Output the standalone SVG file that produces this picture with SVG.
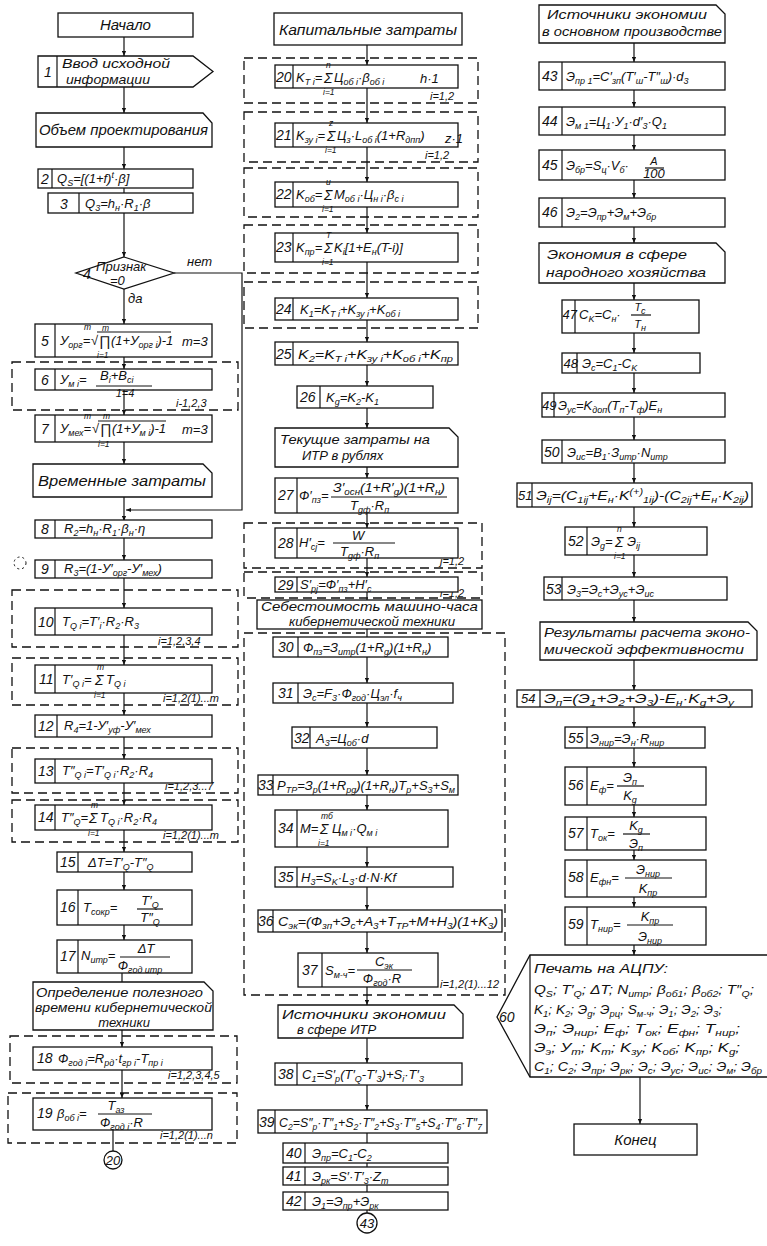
<svg xmlns="http://www.w3.org/2000/svg" width="767" height="1246" viewBox="0 0 767 1246">
<defs>
<marker id="a" viewBox="0 0 6 6" refX="6" refY="3" markerWidth="5" markerHeight="5" orient="auto" markerUnits="userSpaceOnUse"><path d="M0,0.5 L6,3 L0,5.5 z" fill="#111"/></marker>
<style>
text{font-family:"Liberation Sans",Arial,sans-serif;font-style:italic;font-size:13px;fill:#111}
.h{font-size:15px}
.k{font-size:14px}
.b{font-size:9px;baseline-shift:-3px}
.p{font-size:9px;baseline-shift:5px}
.l{font-size:11px}
.sm{font-size:8.5px}
.sg{font-size:14px}
.bx{fill:#fff;stroke:#111;stroke-width:1.3}
.ds{fill:none;stroke:#111;stroke-width:1.3;stroke-dasharray:9 5}
.ln{stroke:#111;stroke-width:1.2;fill:none}
.c{stroke:#111;stroke-width:1.2;fill:none;marker-end:url(#a)}
</style>
</defs>
<rect width="767" height="1246" fill="#fff"/>

<g id="loops">
<rect class="ds" x="12" y="362" width="226" height="48"/>
<rect class="ds" x="12" y="590" width="226" height="57"/>
<rect class="ds" x="12" y="658" width="226" height="47"/>
<rect class="ds" x="12" y="748" width="226" height="45"/>
<rect class="ds" x="12" y="800" width="226" height="42"/>
<rect class="ds" x="10" y="1036" width="227" height="47"/>
<rect class="ds" x="8" y="1093" width="229" height="50"/>
<rect class="ds" x="244" y="58" width="234" height="45"/>
<rect class="ds" x="244" y="112" width="234" height="50"/>
<rect class="ds" x="244" y="168" width="234" height="49"/>
<rect class="ds" x="244" y="225" width="234" height="48"/>
<rect class="ds" x="244" y="282" width="234" height="46"/>
<rect class="ds" x="244" y="523" width="238" height="45"/>
<rect class="ds" x="244" y="572" width="238" height="26"/>
<rect class="ds" x="244" y="633" width="261" height="362"/>
<circle cx="20" cy="563" r="6" fill="none" stroke="#111" stroke-width="1" stroke-dasharray="2 3"/>
<text class="l" x="176" y="407">i-1,2,3</text>
<text class="l" x="158" y="645">i=1,2,3,4</text>
<text class="l" x="163" y="702">i=1,2(1)...m</text>
<text class="l" x="165" y="790">i=1,2,3...7</text>
<text class="l" x="163" y="839">i=1,2(1)...m</text>
<text class="l" x="168" y="1079">i=1,2,3,4,5</text>
<text class="l" x="160" y="1139">i=1,2(1)...n</text>
<text class="l" x="430" y="100">i=1,2</text>
<text class="l" x="425" y="159">i=1,2</text>
<text class="l" x="440" y="565">j=1,2</text>
<text class="l" x="440" y="597">i=1,2</text>
<text class="l" x="440" y="988">i=1,2(1)...12</text>
</g>

<g id="connectors">
<line class="c" x1="124" y1="37" x2="124" y2="56"/>
<line class="c" x1="124" y1="87" x2="124" y2="113"/>
<line class="c" x1="124" y1="147" x2="124" y2="169"/>
<line class="ln" x1="124" y1="188" x2="124" y2="193"/>
<line class="c" x1="124" y1="213" x2="124" y2="257"/>
<line class="c" x1="124" y1="289" x2="124" y2="324"/>
<line class="c" x1="124" y1="357" x2="124" y2="369"/>
<line class="c" x1="124" y1="390" x2="124" y2="415"/>
<line class="c" x1="124" y1="442" x2="124" y2="464"/>
<line class="c" x1="124" y1="497" x2="124" y2="521"/>
<line class="c" x1="124" y1="537" x2="124" y2="560"/>
<line class="c" x1="124" y1="577" x2="124" y2="608"/>
<line class="c" x1="124" y1="635" x2="124" y2="665"/>
<line class="c" x1="124" y1="693" x2="124" y2="715"/>
<line class="c" x1="124" y1="737" x2="124" y2="759"/>
<line class="c" x1="124" y1="783" x2="124" y2="805"/>
<line class="c" x1="124" y1="830" x2="124" y2="852"/>
<line class="c" x1="124" y1="872" x2="124" y2="890"/>
<line class="c" x1="124" y1="925" x2="124" y2="940"/>
<line class="ln" x1="122" y1="973" x2="122" y2="982"/>
<line class="c" x1="122" y1="1030" x2="122" y2="1047"/>
<line class="c" x1="122" y1="1070" x2="122" y2="1098"/>
<line class="ln" x1="113" y1="1130" x2="113" y2="1151"/>
<path class="c" d="M174,273 H242 V510 H126"/>
<text x="187" y="266">нет</text>
<text x="128" y="303">да</text>

<line class="c" x1="367" y1="45" x2="367" y2="65"/>
<line class="c" x1="367" y1="88" x2="367" y2="123"/>
<line class="c" x1="367" y1="147" x2="367" y2="182"/>
<line class="c" x1="367" y1="207" x2="367" y2="233"/>
<line class="c" x1="367" y1="262" x2="367" y2="298"/>
<line class="c" x1="367" y1="320" x2="367" y2="342"/>
<line class="c" x1="367" y1="365" x2="367" y2="386"/>
<line class="c" x1="367" y1="408" x2="367" y2="428"/>
<line class="c" x1="367" y1="467" x2="367" y2="478"/>
<line class="c" x1="367" y1="513" x2="367" y2="528"/>
<line class="c" x1="367" y1="558" x2="367" y2="577"/>
<line class="ln" x1="367" y1="592" x2="367" y2="600"/>
<line class="ln" x1="367" y1="629" x2="367" y2="637"/>
<line class="c" x1="367" y1="657" x2="367" y2="683"/>
<line class="c" x1="367" y1="703" x2="367" y2="727"/>
<line class="c" x1="367" y1="748" x2="367" y2="775"/>
<line class="c" x1="367" y1="795" x2="367" y2="810"/>
<line class="c" x1="367" y1="847" x2="367" y2="867"/>
<line class="c" x1="367" y1="887" x2="367" y2="910"/>
<line class="c" x1="367" y1="932" x2="367" y2="953"/>
<line class="c" x1="367" y1="987" x2="367" y2="1005"/>
<line class="c" x1="367" y1="1038" x2="367" y2="1063"/>
<line class="c" x1="367" y1="1085" x2="367" y2="1110"/>
<line class="ln" x1="367" y1="1133" x2="367" y2="1143"/>
<line class="ln" x1="367" y1="1163" x2="367" y2="1167"/>
<line class="ln" x1="367" y1="1185" x2="367" y2="1192"/>
<line class="ln" x1="367" y1="1210" x2="367" y2="1213"/>

<line class="c" x1="634" y1="43" x2="634" y2="62"/>
<line class="c" x1="634" y1="90" x2="634" y2="107"/>
<line class="c" x1="634" y1="135" x2="634" y2="150"/>
<line class="c" x1="634" y1="180" x2="634" y2="198"/>
<line class="c" x1="634" y1="227" x2="634" y2="243"/>
<line class="c" x1="634" y1="283" x2="634" y2="300"/>
<line class="c" x1="634" y1="333" x2="634" y2="353"/>
<line class="c" x1="634" y1="373" x2="634" y2="393"/>
<line class="c" x1="634" y1="417" x2="634" y2="440"/>
<line class="c" x1="634" y1="463" x2="634" y2="483"/>
<line class="c" x1="634" y1="507" x2="634" y2="527"/>
<line class="c" x1="634" y1="555" x2="634" y2="577"/>
<line class="c" x1="634" y1="600" x2="634" y2="622"/>
<line class="c" x1="634" y1="660" x2="634" y2="690"/>
<line class="c" x1="634" y1="707" x2="634" y2="727"/>
<line class="c" x1="634" y1="748" x2="634" y2="767"/>
<line class="c" x1="634" y1="805" x2="634" y2="817"/>
<line class="c" x1="634" y1="850" x2="634" y2="860"/>
<line class="c" x1="634" y1="897" x2="634" y2="907"/>
<line class="c" x1="634" y1="945" x2="634" y2="955"/>
<line class="c" x1="640" y1="1077" x2="640" y2="1124"/>
</g>

<g id="start"><rect class="bx" x="58" y="13" width="135" height="24"/><text class="h" x="125.5" y="30" text-anchor="middle">Начало</text></g>
<g id="n1"><path class="bx" d="M38,56 H193 L213,71.5 L193,87 H38 Z"/><line class="ln" x1="57" y1="56" x2="57" y2="87"/><text class="k" x="44" y="77">1</text><text x="62" y="68" font-size="14" textLength="108" lengthAdjust="spacingAndGlyphs">Ввод исходной</text><text x="66" y="84" font-size="14" textLength="84" lengthAdjust="spacingAndGlyphs">информации</text></g>
<g id="h1"><path class="bx" d="M36,113 H203 L212,123 V147 H36 Z"/><text class="h" x="39" y="135" textLength="169" lengthAdjust="spacingAndGlyphs">Объем проектирования</text></g>
<g id="n2"><rect class="bx" x="38" y="169" width="155" height="19"/><line class="ln" x1="52" y1="169" x2="52" y2="188"/><text class="k" x="41" y="184">2</text><text x="57" y="183">Q<tspan class="b">S</tspan>=[(1+f)<tspan class="p">t</tspan>·β]</text></g>
<g id="n3"><rect class="bx" x="48" y="193" width="145" height="20"/><line class="ln" x1="79" y1="193" x2="79" y2="213"/><text class="k" x="60" y="209">3</text><text x="85" y="208">Q<tspan class="b">3</tspan>=h<tspan class="b">н</tspan>·R<tspan class="b">1</tspan>·β</text></g>
<g id="n4"><path class="bx" d="M124,257 L174,273 L124,289 L76,273 Z"/><text class="k" x="83" y="279">4</text><text x="96" y="271">Признак</text><text x="110" y="285">=0</text></g>
<g id="n5"><rect class="bx" x="35" y="324" width="177" height="33"/><line class="ln" x1="55" y1="324" x2="55" y2="357"/><text class="k" x="41" y="346">5</text><text x="60" y="345">У<tspan class="b">орг</tspan>=</text><text x="91" y="345">√</text><text class="sm" x="84" y="330">m</text><text class="sg" x="99" y="346">∏</text><text class="sm" x="102" y="331">m</text><text class="sm" x="97" y="358">i=1</text><line class="ln" x1="97" y1="332" x2="171" y2="332"/><text x="111" y="345">(1+У<tspan class="b">орг i</tspan>)-1</text><text x="182" y="346">m=3</text></g>
<g id="n6"><rect class="bx" x="35" y="369" width="177" height="21"/><line class="ln" x1="55" y1="369" x2="55" y2="390"/><text class="k" x="41" y="385">6</text><text x="60" y="384">У<tspan class="b">м i</tspan>=</text><text x="100" y="380" font-size="12">В<tspan class="b">i</tspan>+В<tspan class="b">ci</tspan></text><line class="ln" x1="96" y1="386" x2="152" y2="386"/><text class="l" x="125" y="397" text-anchor="middle">1=4</text></g>
<g id="n7"><rect class="bx" x="35" y="415" width="177" height="27"/><line class="ln" x1="55" y1="415" x2="55" y2="442"/><text class="k" x="41" y="434">7</text><text x="60" y="433">У<tspan class="b">мех</tspan>=</text><text x="92" y="433">√</text><text class="sm" x="84" y="419">m</text><text class="sg" x="100" y="434">∏</text><text class="sm" x="103" y="419">m</text><text class="sm" x="98" y="447">i=1</text><line class="ln" x1="98" y1="421" x2="166" y2="421"/><text x="112" y="433">(1+У<tspan class="b">м i</tspan>)-1</text><text x="182" y="434">m=3</text></g>
<g id="h2"><path class="bx" d="M33,464 H203 L212,473 V497 H33 Z"/><text class="h" x="38" y="486" textLength="168" lengthAdjust="spacingAndGlyphs">Временные затраты</text></g>
<g id="n8"><rect class="bx" x="35" y="520" width="177" height="18"/><line class="ln" x1="55" y1="520" x2="55" y2="538"/><text class="k" x="41" y="534">8</text><text x="64" y="533">R<tspan class="b">2</tspan>=h<tspan class="b">н</tspan>·R<tspan class="b">1</tspan>·β<tspan class="b">н</tspan>·η</text></g>
<g id="n9"><rect class="bx" x="35" y="560" width="177" height="18"/><line class="ln" x1="55" y1="560" x2="55" y2="578"/><text class="k" x="41" y="574">9</text><text x="64" y="573">R<tspan class="b">3</tspan>=(1-У′<tspan class="b">орг</tspan>-У′<tspan class="b">мех</tspan>)</text></g>
<g id="n10"><rect class="bx" x="35" y="608" width="177" height="27"/><line class="ln" x1="55" y1="608" x2="55" y2="635"/><text class="k" x="38" y="627">10</text><text x="62" y="626">T<tspan class="b">Q i</tspan>=T′<tspan class="b">i</tspan>·R<tspan class="b">2</tspan>·R<tspan class="b">3</tspan></text></g>
<g id="n11"><rect class="bx" x="35" y="665" width="177" height="28"/><line class="ln" x1="55" y1="665" x2="55" y2="693"/><text class="k" x="39" y="684">11</text><text x="62" y="684">T′<tspan class="b">Q i</tspan>=</text><text class="sg" x="95" y="685">Σ</text><text class="sm" x="97" y="670">m</text><text class="sm" x="94" y="698">i=1</text><text x="106" y="684">T<tspan class="b">Q i</tspan></text></g>
<g id="n12"><rect class="bx" x="35" y="715" width="177" height="22"/><line class="ln" x1="57" y1="715" x2="57" y2="737"/><text class="k" x="38" y="731">12</text><text x="64" y="730">R<tspan class="b">4</tspan>=1-У′<tspan class="b">уф</tspan>-У′<tspan class="b">мех</tspan></text></g>
<g id="n13"><rect class="bx" x="35" y="759" width="177" height="24"/><line class="ln" x1="55" y1="759" x2="55" y2="783"/><text class="k" x="38" y="776">13</text><text x="62" y="775">T″<tspan class="b">Q i</tspan>=T′<tspan class="b">Q i</tspan>·R<tspan class="b">2</tspan>·R<tspan class="b">4</tspan></text></g>
<g id="n14"><rect class="bx" x="35" y="805" width="177" height="25"/><line class="ln" x1="55" y1="805" x2="55" y2="830"/><text class="k" x="38" y="822">14</text><text x="61" y="822">T″<tspan class="b">Q</tspan>=</text><text class="sg" x="89" y="823">Σ</text><text class="sm" x="91" y="808">m</text><text class="sm" x="88" y="836">i=1</text><text x="100" y="822">T<tspan class="b">Q i</tspan>·R<tspan class="b">2</tspan>·R<tspan class="b">4</tspan></text></g>
<g id="n15"><rect class="bx" x="57" y="852" width="135" height="20"/><line class="ln" x1="78" y1="852" x2="78" y2="872"/><text class="k" x="60" y="867">15</text><text x="88" y="867">ΔT=T′<tspan class="b">Q</tspan>-T″<tspan class="b">Q</tspan></text></g>
<g id="n16"><rect class="bx" x="57" y="890" width="135" height="35"/><line class="ln" x1="78" y1="890" x2="78" y2="925"/><text class="k" x="60" y="912">16</text><text x="83" y="912">T<tspan class="b">сокр</tspan>=</text><text x="150" y="905" text-anchor="middle">T′<tspan class="b">Q</tspan></text><line class="ln" x1="137" y1="909" x2="163" y2="909"/><text x="150" y="922" text-anchor="middle">T″<tspan class="b">Q</tspan></text></g>
<g id="n17"><rect class="bx" x="57" y="940" width="135" height="33"/><line class="ln" x1="78" y1="940" x2="78" y2="973"/><text class="k" x="60" y="961">17</text><text x="81" y="960">N<tspan class="b">итр</tspan>=</text><text x="146" y="953" text-anchor="middle">ΔT</text><text x="140" y="970" text-anchor="middle">Ф<tspan class="b">год итр</tspan></text><line class="ln" x1="120" y1="957" x2="170" y2="957"/></g>
<g id="h3"><path class="bx" d="M33,982 H204 L213,991 V1030 H33 Z"/><text x="36" y="997" font-size="14" textLength="167" lengthAdjust="spacingAndGlyphs">Определение полезного</text><text x="35" y="1012" font-size="14" textLength="177" lengthAdjust="spacingAndGlyphs">времени кибернетической</text><text x="124" y="1027" font-size="14" text-anchor="middle">техники</text></g>
<g id="n18"><rect class="bx" x="33" y="1047" width="179" height="23"/><text class="k" x="37" y="1063">18</text><text x="58" y="1063">Ф<tspan class="b">год i</tspan>=R<tspan class="b">рд</tspan>·t<tspan class="b">гр i</tspan>-T<tspan class="b">пр i</tspan></text></g>
<g id="n19"><rect class="bx" x="33" y="1098" width="179" height="32"/><text class="k" x="37" y="1118">19</text><text x="57" y="1118">β<tspan class="b">об i</tspan>=</text><text x="116" y="1110" text-anchor="middle">T<tspan class="b">аз</tspan></text><line class="ln" x1="98" y1="1114" x2="152" y2="1114"/><text x="100" y="1127">Ф<tspan class="b">год i</tspan>·R</text></g>
<g id="c20"><circle class="bx" cx="113" cy="1160" r="9"/><text x="113" y="1165" font-size="12" text-anchor="middle">20</text></g>

<g id="h4"><rect class="bx" x="274" y="13" width="188" height="32"/><text class="h" x="279" y="35" textLength="178" lengthAdjust="spacingAndGlyphs">Капитальные затраты</text></g>
<g id="n20"><rect class="bx" x="275" y="65" width="183" height="23"/><line class="ln" x1="293" y1="65" x2="293" y2="88"/><text class="k" x="276" y="82">20</text><text x="296" y="82">K<tspan class="b">T i</tspan>=</text><text class="sg" x="324" y="83">Σ</text><text class="sm" x="326" y="68">n</text><text class="sm" x="323" y="95">i=1</text><text x="334" y="82">Ц<tspan class="b">об i</tspan>·β<tspan class="b">об i</tspan></text><text x="420" y="83">h·1</text></g>
<g id="n21"><rect class="bx" x="275" y="123" width="183" height="24"/><line class="ln" x1="293" y1="123" x2="293" y2="147"/><text class="k" x="276" y="140">21</text><text x="296" y="140">K<tspan class="b">зу i</tspan>=</text><text class="sg" x="327" y="141">Σ</text><text class="sm" x="329" y="126">z</text><text class="sm" x="325" y="153">i=1</text><text x="337" y="140">Ц<tspan class="b">з</tspan>·L<tspan class="b">об i</tspan>(1+R<tspan class="b">дпп</tspan>)</text><text x="445" y="143">z·1</text></g>
<g id="n22"><rect class="bx" x="275" y="182" width="183" height="25"/><line class="ln" x1="293" y1="182" x2="293" y2="207"/><text class="k" x="276" y="199">22</text><text x="296" y="199">K<tspan class="b">об</tspan>=</text><text class="sg" x="324" y="200">Σ</text><text class="sm" x="326" y="185">u</text><text class="sm" x="322" y="212">i=1</text><text x="334" y="199">M<tspan class="b">об i</tspan>·Ц<tspan class="b">н i</tspan>·β<tspan class="b">c i</tspan></text></g>
<g id="n23"><rect class="bx" x="275" y="233" width="183" height="29"/><line class="ln" x1="293" y1="233" x2="293" y2="262"/><text class="k" x="276" y="252">23</text><text x="296" y="252">K<tspan class="b">пр</tspan>=</text><text class="sg" x="324" y="253">Σ</text><text class="sm" x="326" y="238">T</text><text class="sm" x="322" y="265">i=1</text><text x="334" y="252">K<tspan class="b">i</tspan>[1+E<tspan class="b">н</tspan>(T-i)]</text></g>
<g id="n24"><rect class="bx" x="275" y="298" width="183" height="22"/><line class="ln" x1="293" y1="298" x2="293" y2="320"/><text class="k" x="276" y="314">24</text><text x="300" y="314">K<tspan class="b">1</tspan>=K<tspan class="b">T i</tspan>+K<tspan class="b">зу i</tspan>+K<tspan class="b">об i</tspan></text></g>
<g id="n25"><rect class="bx" x="275" y="342" width="183" height="23"/><line class="ln" x1="293" y1="342" x2="293" y2="365"/><text class="k" x="276" y="359">25</text><text x="298" y="359" textLength="155" lengthAdjust="spacingAndGlyphs">K<tspan class="b">2</tspan>=K<tspan class="b">T i</tspan>+K<tspan class="b">зу i</tspan>+K<tspan class="b">об i</tspan>+K<tspan class="b">пр</tspan></text></g>
<g id="n26"><rect class="bx" x="297" y="386" width="136" height="22"/><line class="ln" x1="320" y1="386" x2="320" y2="408"/><text class="k" x="300" y="402">26</text><text x="326" y="402">K<tspan class="b">g</tspan>=K<tspan class="b">2</tspan>-K<tspan class="b">1</tspan></text></g>
<g id="h5"><path class="bx" d="M275,428 H449 L458,437 V467 H275 Z"/><text x="280" y="444" font-size="14" textLength="150" lengthAdjust="spacingAndGlyphs">Текущие затраты на</text><text x="302" y="460" font-size="14">ИТР в рублях</text></g>
<g id="n27"><rect class="bx" x="275" y="478" width="183" height="35"/><line class="ln" x1="297" y1="478" x2="297" y2="513"/><text class="k" x="278" y="500">27</text><text x="299" y="500">Ф′<tspan class="b">пз</tspan>=</text><text x="333" y="492" textLength="112" lengthAdjust="spacingAndGlyphs">З′<tspan class="b">осн</tspan>(1+R′<tspan class="b">g</tspan>)(1+R<tspan class="b">н</tspan>)</text><line class="ln" x1="331" y1="497" x2="447" y2="497"/><text x="350" y="510">T<tspan class="b">gф</tspan>·R<tspan class="b">п</tspan></text></g>
<g id="n28"><rect class="bx" x="275" y="528" width="183" height="30"/><line class="ln" x1="297" y1="528" x2="297" y2="558"/><text class="k" x="278" y="548">28</text><text x="299" y="547">H′<tspan class="b">cj</tspan>=</text><text x="352" y="540">W</text><line class="ln" x1="333" y1="543" x2="395" y2="543"/><text x="340" y="556">T<tspan class="b">gф</tspan>·R<tspan class="b">п</tspan></text></g>
<g id="n29"><rect class="bx" x="275" y="577" width="183" height="15"/><line class="ln" x1="297" y1="577" x2="297" y2="592"/><text class="k" x="278" y="590" font-size="13">29</text><text x="300" y="589">S′<tspan class="b">pj</tspan>=Ф′<tspan class="b">пз</tspan>+H′<tspan class="b">c</tspan></text></g>
<g id="h6"><rect class="bx" x="257" y="600" width="225" height="29"/><text x="261" y="611" font-size="10.5" textLength="217" lengthAdjust="spacingAndGlyphs">Себестоимость машино-часа</text><text x="289" y="626" font-size="10.5" textLength="166" lengthAdjust="spacingAndGlyphs">кибернетической техники</text></g>
<g id="n30"><rect class="bx" x="273" y="637" width="175" height="20"/><line class="ln" x1="298" y1="637" x2="298" y2="657"/><text class="k" x="278" y="652">30</text><text x="303" y="652">Ф<tspan class="b">пз</tspan>=З<tspan class="b">итр</tspan>(1+R<tspan class="b">g</tspan>)(1+R<tspan class="b">н</tspan>)</text></g>
<g id="n31"><rect class="bx" x="273" y="683" width="180" height="20"/><line class="ln" x1="298" y1="683" x2="298" y2="703"/><text class="k" x="278" y="698">31</text><text x="303" y="698">Э<tspan class="b">c</tspan>=F<tspan class="b">3</tspan>·Ф<tspan class="b">год</tspan>·Ц<tspan class="b">эл</tspan>·f<tspan class="b">ч</tspan></text></g>
<g id="n32"><rect class="bx" x="292" y="727" width="145" height="21"/><line class="ln" x1="310" y1="727" x2="310" y2="748"/><text class="k" x="294" y="743">32</text><text x="316" y="743">A<tspan class="b">3</tspan>=Ц<tspan class="b">об</tspan>·d</text></g>
<g id="n33"><rect class="bx" x="258" y="775" width="200" height="20"/><line class="ln" x1="273" y1="775" x2="273" y2="795"/><text class="k" x="258" y="790" font-size="13">33</text><text x="277" y="790" textLength="178" lengthAdjust="spacingAndGlyphs">P<tspan class="b">TP</tspan>=З<tspan class="b">p</tspan>(1+R<tspan class="b">pg</tspan>)(1+R<tspan class="b">н</tspan>)T<tspan class="b">p</tspan>+S<tspan class="b">3</tspan>+S<tspan class="b">м</tspan></text></g>
<g id="n34"><rect class="bx" x="275" y="810" width="173" height="37"/><line class="ln" x1="297" y1="810" x2="297" y2="847"/><text class="k" x="278" y="833">34</text><text x="300" y="833">M=</text><text class="sg" x="320" y="834">Σ</text><text class="sm" x="321" y="819">mб</text><text class="sm" x="318" y="846">i=1</text><text x="332" y="833">Ц<tspan class="b">м i</tspan>·Q<tspan class="b">м i</tspan></text></g>
<g id="n35"><rect class="bx" x="275" y="867" width="178" height="20"/><line class="ln" x1="297" y1="867" x2="297" y2="887"/><text class="k" x="278" y="882">35</text><text x="301" y="882">H<tspan class="b">3</tspan>=S<tspan class="b">K</tspan>·L<tspan class="b">3</tspan>·d·N·Kf</text></g>
<g id="n36"><rect class="bx" x="258" y="910" width="244" height="22"/><line class="ln" x1="273" y1="910" x2="273" y2="932"/><text class="k" x="258" y="926" font-size="13">36</text><text x="278" y="926" textLength="220" lengthAdjust="spacingAndGlyphs">C<tspan class="b">эк</tspan>=(Ф<tspan class="b">зп</tspan>+Э<tspan class="b">c</tspan>+A<tspan class="b">3</tspan>+T<tspan class="b">TP</tspan>+M+H<tspan class="b">3</tspan>)(1+K<tspan class="b">3</tspan>)</text></g>
<g id="n37"><rect class="bx" x="298" y="953" width="140" height="34"/><line class="ln" x1="322" y1="953" x2="322" y2="987"/><text class="k" x="302" y="975">37</text><text x="325" y="975">S<tspan class="b">м-ч</tspan>=</text><text x="384" y="966" text-anchor="middle">C<tspan class="b">эк</tspan></text><line class="ln" x1="357" y1="970" x2="412" y2="970"/><text x="382" y="983" text-anchor="middle">Ф<tspan class="b">год</tspan>·R</text></g>
<g id="h7"><path class="bx" d="M278,1005 H454 L463,1014 V1038 H278 Z"/><text x="282" y="1019" font-size="14" textLength="164" lengthAdjust="spacingAndGlyphs">Источники экономии</text><text x="297" y="1034" font-size="14">в сфере ИТР</text></g>
<g id="n38"><rect class="bx" x="275" y="1063" width="187" height="22"/><line class="ln" x1="297" y1="1063" x2="297" y2="1085"/><text class="k" x="278" y="1079">38</text><text x="302" y="1079">C<tspan class="b">1</tspan>=S′<tspan class="b">p</tspan>(T′<tspan class="b">Q</tspan>-T′<tspan class="b">3</tspan>)+S<tspan class="b">i</tspan>·T′<tspan class="b">3</tspan></text></g>
<g id="n39"><rect class="bx" x="258" y="1110" width="229" height="23"/><line class="ln" x1="275" y1="1110" x2="275" y2="1133"/><text class="k" x="259" y="1127" font-size="13">39</text><text x="279" y="1127" textLength="203" lengthAdjust="spacingAndGlyphs">C<tspan class="b">2</tspan>=S″<tspan class="b">p</tspan>·T″<tspan class="b">1</tspan>+S<tspan class="b">2</tspan>·T″<tspan class="b">2</tspan>+S<tspan class="b">3</tspan>·T″<tspan class="b">5</tspan>+S<tspan class="b">4</tspan>·T″<tspan class="b">6</tspan>·T″<tspan class="b">7</tspan></text></g>
<g id="n40"><rect class="bx" x="283" y="1143" width="165" height="20"/><line class="ln" x1="305" y1="1143" x2="305" y2="1163"/><text class="k" x="286" y="1158">40</text><text x="312" y="1158">Э<tspan class="b">пр</tspan>=C<tspan class="b">1</tspan>-C<tspan class="b">2</tspan></text></g>
<g id="n41"><rect class="bx" x="283" y="1167" width="165" height="18"/><line class="ln" x1="305" y1="1167" x2="305" y2="1185"/><text class="k" x="286" y="1181">41</text><text x="312" y="1181">Э<tspan class="b">рк</tspan>=S′·T′<tspan class="b">3</tspan>·Z<tspan class="b">m</tspan></text></g>
<g id="n42"><rect class="bx" x="283" y="1192" width="165" height="18"/><line class="ln" x1="305" y1="1192" x2="305" y2="1210"/><text class="k" x="286" y="1206">42</text><text x="312" y="1206">Э<tspan class="b">1</tspan>=Э<tspan class="b">пр</tspan>+Э<tspan class="b">рк</tspan></text></g>
<g id="c43"><circle class="bx" cx="367" cy="1223" r="10"/><text x="367" y="1228" font-size="12" text-anchor="middle">43</text></g>

<g id="h8"><path class="bx" d="M539,5 H716 L725,14 V43 H539 Z"/><text x="547" y="19" font-size="14" textLength="160" lengthAdjust="spacingAndGlyphs">Источники экономии</text><text x="542" y="36" font-size="14" textLength="180" lengthAdjust="spacingAndGlyphs">в основном производстве</text></g>
<g id="n43"><rect class="bx" x="539" y="62" width="186" height="28"/><line class="ln" x1="562" y1="62" x2="562" y2="90"/><text class="k" x="542" y="81">43</text><text x="566" y="81">Э<tspan class="b">пр 1</tspan>=C′<tspan class="b">зп</tspan>(T′<tspan class="b">ш</tspan>-T″<tspan class="b">ш</tspan>)·d<tspan class="b">3</tspan></text></g>
<g id="n44"><rect class="bx" x="539" y="107" width="186" height="28"/><line class="ln" x1="562" y1="107" x2="562" y2="135"/><text class="k" x="542" y="126">44</text><text x="566" y="126">Э<tspan class="b">м 1</tspan>=Ц<tspan class="b">1</tspan>·У<tspan class="b">1</tspan>·d′<tspan class="b">3</tspan>·Q<tspan class="b">1</tspan></text></g>
<g id="n45"><rect class="bx" x="539" y="150" width="186" height="30"/><line class="ln" x1="562" y1="150" x2="562" y2="180"/><text class="k" x="542" y="170">45</text><text x="566" y="170">Э<tspan class="b">бр</tspan>=S<tspan class="b">ц</tspan>·V<tspan class="b">б</tspan>·</text><text class="l" x="654" y="165" text-anchor="middle">A</text><line class="ln" x1="645" y1="168" x2="664" y2="168"/><text x="654" y="178" font-size="10" text-anchor="middle">100</text></g>
<g id="n46"><rect class="bx" x="539" y="198" width="186" height="29"/><line class="ln" x1="562" y1="198" x2="562" y2="227"/><text class="k" x="542" y="217">46</text><text x="566" y="217">Э<tspan class="b">2</tspan>=Э<tspan class="b">пр</tspan>+Э<tspan class="b">м</tspan>+Э<tspan class="b">бр</tspan></text></g>
<g id="h9"><path class="bx" d="M539,243 H716 L725,252 V283 H539 Z"/><text x="547" y="259" font-size="14" textLength="140" lengthAdjust="spacingAndGlyphs">Экономия в сфере</text><text x="546" y="277" font-size="14" textLength="160" lengthAdjust="spacingAndGlyphs">народного хозяйства</text></g>
<g id="n47"><rect class="bx" x="562" y="300" width="137" height="33"/><line class="ln" x1="575" y1="300" x2="575" y2="333"/><text x="562.5" y="319" font-size="11">47</text><text x="579" y="319">C<tspan class="b">K</tspan>=C<tspan class="b">н</tspan>·</text><text class="l" x="640" y="311" text-anchor="middle">T<tspan class="b">c</tspan></text><line class="ln" x1="631" y1="315" x2="651" y2="315"/><text class="l" x="640" y="328" text-anchor="middle">T<tspan class="b">н</tspan></text></g>
<g id="n48"><rect class="bx" x="562" y="353" width="138" height="20"/><line class="ln" x1="577" y1="353" x2="577" y2="373"/><text x="563.5" y="368" font-size="11.5">48</text><text x="582" y="368">Э<tspan class="b">c</tspan>=C<tspan class="b">1</tspan>-C<tspan class="b">K</tspan></text></g>
<g id="n49"><rect class="bx" x="542" y="393" width="183" height="24"/><line class="ln" x1="554" y1="393" x2="554" y2="417"/><text x="542" y="410" font-size="10.5">49</text><text x="558" y="410">Э<tspan class="b">ус</tspan>=K<tspan class="b">доп</tspan>(T<tspan class="b">п</tspan>-T<tspan class="b">ф</tspan>)E<tspan class="b">н</tspan></text></g>
<g id="n50"><rect class="bx" x="542" y="440" width="183" height="23"/><line class="ln" x1="562" y1="440" x2="562" y2="463"/><text class="k" x="544" y="457">50</text><text x="567" y="457">Э<tspan class="b">ис</tspan>=B<tspan class="b">1</tspan>·З<tspan class="b">итр</tspan>·N<tspan class="b">итр</tspan></text></g>
<g id="n51"><rect class="bx" x="517" y="483" width="235" height="24"/><line class="ln" x1="532" y1="483" x2="532" y2="507"/><text x="518" y="500" font-size="13">51</text><text x="536" y="500" textLength="213" lengthAdjust="spacingAndGlyphs">Э<tspan class="b">ij</tspan>=(C<tspan class="b">1ij</tspan>+E<tspan class="b">н</tspan>·K<tspan class="p">(+)</tspan><tspan class="b">1ij</tspan>)-(C<tspan class="b">2ij</tspan>+E<tspan class="b">н</tspan>·K<tspan class="b">2ij</tspan>)</text></g>
<g id="n52"><rect class="bx" x="565" y="527" width="142" height="28"/><line class="ln" x1="587" y1="527" x2="587" y2="555"/><text class="k" x="568" y="546">52</text><text x="591" y="546">Э<tspan class="b">g</tspan>=</text><text class="sg" x="615" y="547">Σ</text><text class="sm" x="617" y="532">n</text><text class="sm" x="614" y="559">i=1</text><text x="627" y="546">Э<tspan class="b">ij</tspan></text></g>
<g id="n53"><rect class="bx" x="544" y="577" width="183" height="23"/><line class="ln" x1="562" y1="577" x2="562" y2="600"/><text class="k" x="546" y="594">53</text><text x="567" y="594">Э<tspan class="b">3</tspan>=Э<tspan class="b">c</tspan>+Э<tspan class="b">ус</tspan>+Э<tspan class="b">ис</tspan></text></g>
<g id="h10"><path class="bx" d="M540,622 H748 L757,631 V660 H540 Z"/><text x="544" y="637" font-size="14" textLength="206" lengthAdjust="spacingAndGlyphs">Результаты расчета эконо-</text><text x="544" y="654" font-size="14" textLength="200" lengthAdjust="spacingAndGlyphs">мической эффективности</text></g>
<g id="n54"><rect class="bx" x="517" y="690" width="235" height="17"/><line class="ln" x1="540" y1="690" x2="540" y2="707"/><text x="521" y="703" font-size="13">54</text><text x="544" y="703" textLength="190" lengthAdjust="spacingAndGlyphs">Э<tspan class="b">п</tspan>=(Э<tspan class="b">1</tspan>+Э<tspan class="b">2</tspan>+Э<tspan class="b">3</tspan>)-E<tspan class="b">н</tspan>·K<tspan class="b">g</tspan>+Э<tspan class="b">у</tspan></text></g>
<g id="n55"><rect class="bx" x="565" y="727" width="140" height="21"/><line class="ln" x1="587" y1="727" x2="587" y2="748"/><text class="k" x="568" y="743">55</text><text x="590" y="743">Э<tspan class="b">нир</tspan>=Э<tspan class="b">н</tspan>·R<tspan class="b">нир</tspan></text></g>
<g id="n56"><rect class="bx" x="565" y="767" width="141" height="38"/><line class="ln" x1="587" y1="767" x2="587" y2="805"/><text class="k" x="568" y="790">56</text><text x="590" y="790">E<tspan class="b">ф</tspan>=</text><text x="630" y="782" text-anchor="middle">Э<tspan class="b">п</tspan></text><line class="ln" x1="617" y1="786" x2="644" y2="786"/><text x="630" y="800" text-anchor="middle">K<tspan class="b">g</tspan></text></g>
<g id="n57"><rect class="bx" x="565" y="817" width="141" height="33"/><line class="ln" x1="587" y1="817" x2="587" y2="850"/><text class="k" x="568" y="838">57</text><text x="590" y="838">T<tspan class="b">ок</tspan>=</text><text x="636" y="830" text-anchor="middle">K<tspan class="b">g</tspan></text><line class="ln" x1="623" y1="834" x2="650" y2="834"/><text x="636" y="848" text-anchor="middle">Э<tspan class="b">п</tspan></text></g>
<g id="n58"><rect class="bx" x="565" y="860" width="141" height="37"/><line class="ln" x1="587" y1="860" x2="587" y2="897"/><text class="k" x="568" y="882">58</text><text x="590" y="882">E<tspan class="b">фн</tspan>=</text><text x="648" y="874" text-anchor="middle">Э<tspan class="b">нир</tspan></text><line class="ln" x1="625" y1="878" x2="672" y2="878"/><text x="648" y="893" text-anchor="middle">K<tspan class="b">пр</tspan></text></g>
<g id="n59"><rect class="bx" x="565" y="907" width="141" height="38"/><line class="ln" x1="587" y1="907" x2="587" y2="945"/><text class="k" x="568" y="929">59</text><text x="590" y="929">T<tspan class="b">нир</tspan>=</text><text x="650" y="921" text-anchor="middle">K<tspan class="b">пр</tspan></text><line class="ln" x1="627" y1="925" x2="673" y2="925"/><text x="650" y="941" text-anchor="middle">Э<tspan class="b">нир</tspan></text></g>
<g id="n60"><path class="bx" d="M767,955 H530 L497,1017 L530,1077 H767"/><line class="ln" x1="530" y1="955" x2="530" y2="1077"/><text class="k" x="499" y="1022">60</text>
<text x="534" y="973" textLength="134" lengthAdjust="spacingAndGlyphs">Печать на АЦПУ:</text>
<text x="534" y="994" textLength="220" lengthAdjust="spacingAndGlyphs">Q<tspan class="b">S</tspan>; T′<tspan class="b">Q</tspan>; ΔT; N<tspan class="b">итр</tspan>; β<tspan class="b">об1</tspan>; β<tspan class="b">об2</tspan>; T″<tspan class="b">Q</tspan>;</text>
<text x="534" y="1014" textLength="188" lengthAdjust="spacingAndGlyphs">K<tspan class="b">1</tspan>; K<tspan class="b">2</tspan>; Э<tspan class="b">g</tspan>; Э<tspan class="b">рц</tspan>; S<tspan class="b">м-ч</tspan>; Э<tspan class="b">1</tspan>; Э<tspan class="b">2</tspan>; Э<tspan class="b">3</tspan>;</text>
<text x="534" y="1033" textLength="206" lengthAdjust="spacingAndGlyphs">Э<tspan class="b">п</tspan>; Э<tspan class="b">нир</tspan>; E<tspan class="b">ф</tspan>; T<tspan class="b">ок</tspan>; E<tspan class="b">фн</tspan>; T<tspan class="b">нир</tspan>;</text>
<text x="534" y="1052" textLength="206" lengthAdjust="spacingAndGlyphs">Э<tspan class="b">э</tspan>; У<tspan class="b">т</tspan>; K<tspan class="b">т</tspan>; K<tspan class="b">зу</tspan>; K<tspan class="b">об</tspan>; K<tspan class="b">пр</tspan>; K<tspan class="b">g</tspan>;</text>
<text x="534" y="1071" textLength="228" lengthAdjust="spacingAndGlyphs">C<tspan class="b">1</tspan>; C<tspan class="b">2</tspan>; Э<tspan class="b">пр</tspan>; Э<tspan class="b">рк</tspan>; Э<tspan class="b">c</tspan>; Э<tspan class="b">ус</tspan>; Э<tspan class="b">ис</tspan>; Э<tspan class="b">м</tspan>; Э<tspan class="b">бр</tspan></text>
</g>
<g id="end"><rect class="bx" x="574" y="1124" width="123" height="31"/><text class="h" x="635.5" y="1145" text-anchor="middle">Конец</text></g>
</svg>
